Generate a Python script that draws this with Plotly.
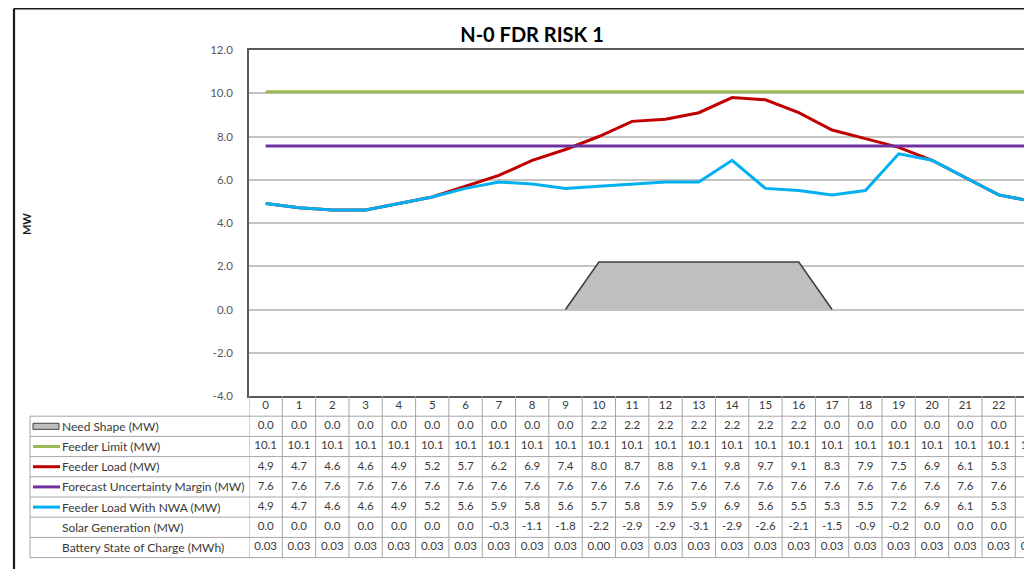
import plotly.graph_objects as go

# ---------------- data ----------------
hours = list(range(24))
need_shape = [0.0, 0.0, 0.0, 0.0, 0.0, 0.0, 0.0, 0.0, 0.0, 0.0, 2.2, 2.2, 2.2, 2.2, 2.2, 2.2, 2.2, 0.0, 0.0, 0.0, 0.0, 0.0, 0.0, 0.0]
feeder_limit = [10.07] * 24
feeder_load = [4.9, 4.7, 4.6, 4.6, 4.9, 5.2, 5.7, 6.2, 6.9, 7.4, 8.0, 8.7, 8.8, 9.1, 9.8, 9.7, 9.1, 8.3, 7.9, 7.5, 6.9, 6.1, 5.3, 5.0]
uncertainty_margin = [7.56] * 24
load_with_nwa = [4.9, 4.7, 4.6, 4.6, 4.9, 5.2, 5.6, 5.9, 5.8, 5.6, 5.7, 5.8, 5.9, 5.9, 6.9, 5.6, 5.5, 5.3, 5.5, 7.2, 6.9, 6.1, 5.3, 5.0]
solar_generation = [0.0, 0.0, 0.0, 0.0, 0.0, 0.0, 0.0, -0.3, -1.1, -1.8, -2.2, -2.9, -2.9, -3.1, -2.9, -2.6, -2.1, -1.5, -0.9, -0.2, 0.0, 0.0, 0.0, 0.0]
battery_soc = [0.03, 0.03, 0.03, 0.03, 0.03, 0.03, 0.03, 0.03, 0.03, 0.03, 0.00, 0.03, 0.03, 0.03, 0.03, 0.03, 0.03, 0.03, 0.03, 0.03, 0.03, 0.03, 0.03, 0.03]

row_labels = ["Need Shape (MW)", "Feeder Limit (MW)", "Feeder Load (MW)",
              "Forecast Uncertainty Margin (MW)", "Feeder Load With NWA (MW)",
              "Solar Generation (MW)", "Battery State of Charge (MWh)"]
title_text = "N-0 FDR RISK 1"
y_title = "MW"
y_ticks = [-4, -2, 0, 2, 4, 6, 8, 10, 12]
y_tick_labels = [format(v, ".1f") for v in y_ticks]

# ---------------- styling ----------------
FONT = "Lato"
C_NEED_FILL = "#bfbfbf"
C_NEED_LINE = "#404040"
C_LIMIT = "#9bbb59"
C_LOAD = "#c00000"
C_MARGIN = "#7030a0"
C_NWA = "#00b0f0"
C_GRID = "#c4c4c4"
C_TABLE = "#a6a6a6"
C_TEXT = "#3a3a3a"

OFF = 8                       # page body margin of the viewer
W, H = 1032 - OFF, 569 - OFF
ML, MR, MT, MB = 249 - OFF, 0, 50 - OFF, 0
plot_w = W - ML - MR
paper_h = H - MT - MB
plot_bottom_px = 396 - OFF
ydom0 = (H - plot_bottom_px) / paper_h
row_h = 20.2
table_units = (H - plot_bottom_px) / row_h


def px_to_paper_x(px):        # px given in screenshot coordinates
    return (px - OFF - ML) / plot_w


def px_to_paper_y(py):
    return (H - MB - (py - OFF)) / paper_h


fig = go.Figure()

# need shape area (fill only) + outline of non-zero section
fig.add_trace(go.Scatter(x=hours, y=need_shape, mode="lines", fill="tozeroy",
                         fillcolor=C_NEED_FILL, line=dict(width=0, color=C_NEED_FILL),
                         name=row_labels[0], hoverinfo="skip"))
nz = [i for i, v in enumerate(need_shape) if v != 0]
i0, i1 = max(nz[0] - 1, 0), min(nz[-1] + 1, len(hours) - 1)
fig.add_trace(go.Scatter(x=hours[i0:i1 + 1], y=need_shape[i0:i1 + 1], mode="lines",
                         line=dict(width=1.6, color=C_NEED_LINE), hoverinfo="skip"))

for vals, col, name in [(feeder_limit, C_LIMIT, row_labels[1]),
                        (feeder_load, C_LOAD, row_labels[2]),
                        (uncertainty_margin, C_MARGIN, row_labels[3]),
                        (load_with_nwa, C_NWA, row_labels[4])]:
    fig.add_trace(go.Scatter(x=hours, y=vals, mode="lines", name=name,
                             line=dict(width=3, color=col)))

# ---------------- data table (on yaxis2) ----------------
rows_vals = [need_shape, feeder_limit, feeder_load, uncertainty_margin,
             load_with_nwa, solar_generation, battery_soc]
rows_fmt = [".1f", ".1f", ".1f", ".1f", ".1f", ".1f", ".2f"]
tx, ty, tt = [], [], []
for h in hours:
    tx.append(h)
    ty.append(0.5)
    tt.append(str(h))
for r, (vals, fmt) in enumerate(zip(rows_vals, rows_fmt)):
    for h, v in zip(hours, vals):
        tx.append(h)
        ty.append(r + 1.5)
        tt.append(format(v, fmt))
fig.add_trace(go.Scatter(x=tx, y=ty, text=tt, mode="text", xaxis="x", yaxis="y2",
                         textfont=dict(family=FONT, size=11.5, color=C_TEXT),
                         textposition="middle center", hoverinfo="skip"))

shapes = []
# vertical cell lines
for k in range(len(hours) + 1):
    shapes.append(dict(type="line", xref="x", yref="y2", x0=k - 0.5, x1=k - 0.5,
                       y0=0, y1=len(rows_vals) + 1, line=dict(color=C_TABLE, width=1)))
# label box left edge
shapes.append(dict(type="line", xref="paper", yref="y2", x0=px_to_paper_x(30), x1=px_to_paper_x(30),
                   y0=1, y1=len(rows_vals) + 1, line=dict(color=C_TABLE, width=1)))
# horizontal row lines
for r in range(1, len(rows_vals) + 2):
    shapes.append(dict(type="line", xref="paper", yref="y2", x0=px_to_paper_x(30), x1=1.0,
                       y0=r, y1=r, line=dict(color=C_TABLE, width=1)))
# legend keys
key_x0, key_x1 = px_to_paper_x(33), px_to_paper_x(60)
shapes.append(dict(type="rect", xref="paper", yref="y2", x0=key_x0, x1=px_to_paper_x(59),
                   y0=1.35, y1=1.65, fillcolor=C_NEED_FILL, line=dict(color=C_NEED_LINE, width=1)))
for r, col in zip([2, 3, 4, 5], [C_LIMIT, C_LOAD, C_MARGIN, C_NWA]):
    shapes.append(dict(type="line", xref="paper", yref="y2", x0=key_x0, x1=key_x1,
                       y0=r + 0.5, y1=r + 0.5, line=dict(color=col, width=3)))
# chart border (top & left)
bx = px_to_paper_x(14)
by = px_to_paper_y(8.5)
shapes.append(dict(type="line", xref="paper", yref="paper", x0=bx, x1=1.02, y0=by, y1=by,
                   line=dict(color="#1a1a1a", width=2.2)))
shapes.append(dict(type="line", xref="paper", yref="paper", x0=bx, x1=bx, y0=by, y1=-0.05,
                   line=dict(color="#1a1a1a", width=2.2)))

annotations = []
for r, lab in enumerate(row_labels):
    annotations.append(dict(text=lab, xref="paper", yref="y2", x=px_to_paper_x(60), y=r + 1.5,
                            xanchor="left", yanchor="middle", showarrow=False,
                            font=dict(family=FONT, size=12, color=C_TEXT)))
annotations.append(dict(text="<b>" + y_title + "</b>", xref="paper", yref="y",
                        x=px_to_paper_x(26), y=3.95, textangle=-90, showarrow=False,
                        xanchor="center", yanchor="middle",
                        font=dict(family=FONT, size=11, color="#1a1a1a")))

fig.update_layout(
    template="none",
    width=W, height=H,
    margin=dict(l=ML, r=MR, t=MT, b=MB, pad=0, autoexpand=False),
    paper_bgcolor="white", plot_bgcolor="white",
    showlegend=False,
    title=dict(text="<b>" + title_text + "</b>", x=(532 - OFF) / W, xref="container", xanchor="center",
               y=1 - (35 - OFF) / H, yref="container", yanchor="middle", automargin=False,
               font=dict(family=FONT, size=20, color="black")),
    xaxis=dict(range=[-0.5, 23], showgrid=False, zeroline=False, showticklabels=False,
               ticks="", showline=True, mirror=True, linecolor="#595959", linewidth=1.5,
               anchor="y", fixedrange=True, automargin=False),
    yaxis=dict(domain=[ydom0, 1], range=[-4, 12], tickvals=y_ticks, ticktext=y_tick_labels,
               showgrid=True, gridcolor=C_GRID, gridwidth=1.6, zeroline=False,
               showline=True, linecolor="#595959", linewidth=1.5,
               ticks="", ticklabelstandoff=12, automargin=False,
               tickfont=dict(family=FONT, size=11.5, color="#595959"), fixedrange=True),
    yaxis2=dict(domain=[0, ydom0], range=[table_units, 0], visible=False, anchor="x",
                fixedrange=True, automargin=False),
    shapes=shapes,
    annotations=annotations,
)

fig.write_html("out.html")
